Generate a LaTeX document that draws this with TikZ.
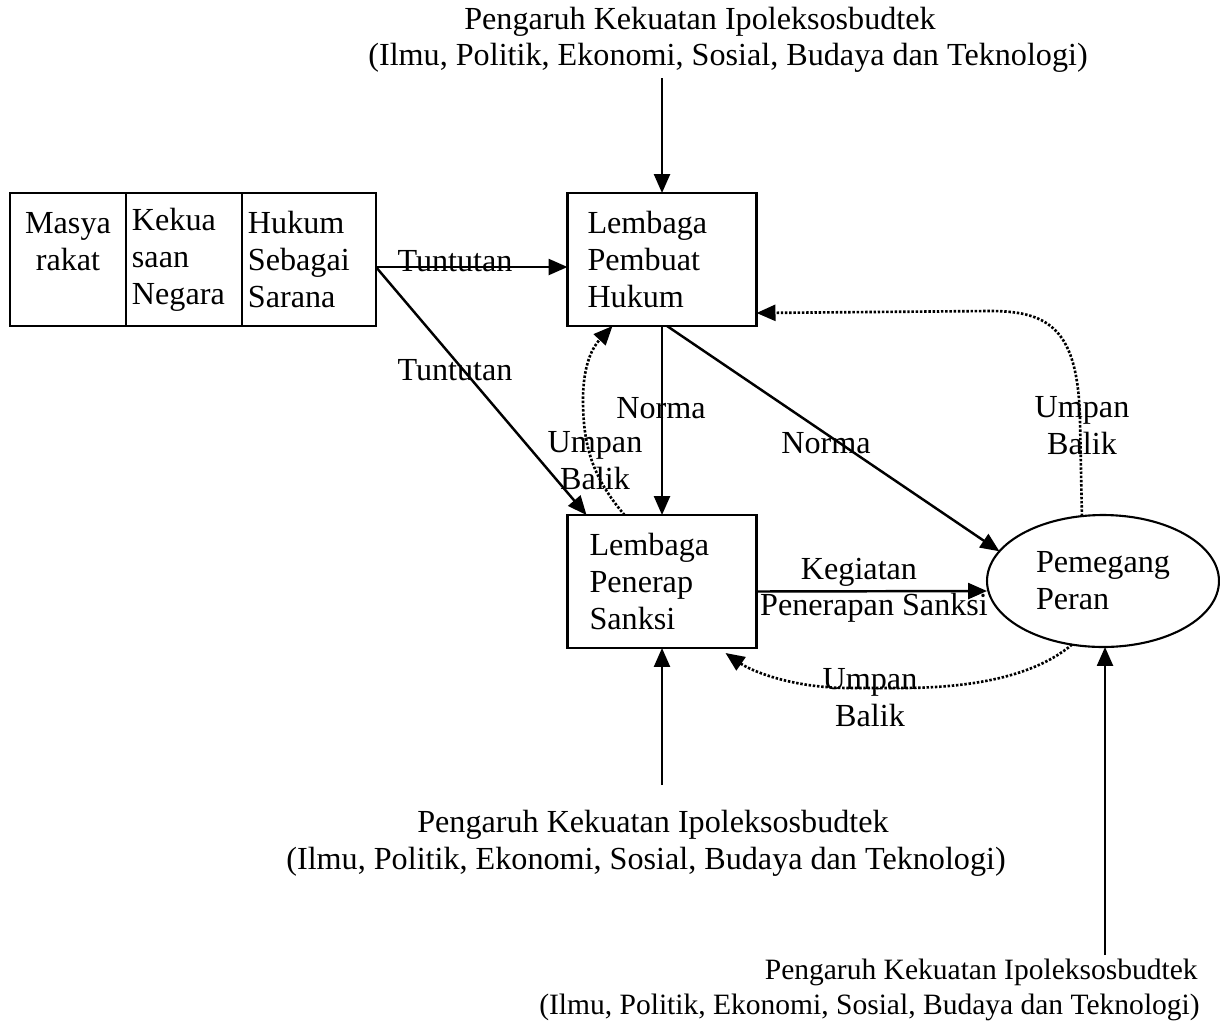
\documentclass[tikz,border=0pt]{standalone}
\usepackage{fontspec}
\setmainfont{Liberation Serif}
\usetikzlibrary{arrows.meta,shapes.geometric}

\begin{document}
\begin{tikzpicture}[x=0.02cm, y=-0.02cm,
		every node/.style={font=\fontsize{18.3}{21}\selectfont},
		kotak/.style={draw, line width=1.2pt, outer sep=0pt, minimum height=2.66cm, align=left},
		panah/.style={line width=1.4pt, -{Triangle[length=0.38cm, width=0.32cm]}},
		balik/.style={line width=1.5pt, dash pattern=on 1.4pt off 1pt, -{Triangle[length=0.38cm, width=0.32cm]}},
		teks/.style={inner sep=0pt, align=center}]
		%%%%% START %%%%%
		
		\useasboundingbox (0,0) rectangle (1220,1025);
		
		\node[teks] (judul1a) at (700,22) {Pengaruh Kekuatan Ipoleksosbudtek};
		\node[teks] (judul1b) at (728,58) {(Ilmu, Politik, Ekonomi, Sosial, Budaya dan Teknologi)};
		
		\node[kotak, inner xsep=0.1cm, text width=2.12cm, align=center] (masy) at (68,259.5) {Masya\\rakat\\~};
		\node[kotak, inner xsep=0.12cm, text width=2.08cm, anchor=west] (kuasa) at (masy.east) {Kekua\\saan\\Negara};
		\node[kotak, inner xsep=0.12cm, text width=2.44cm, anchor=west] (sarana) at (kuasa.east) {Hukum\\Sebagai\\Sarana};
		
		\node[kotak, inner xsep=0.4cm, text width=2.98cm] (lph) at (662,259.5) {Lembaga\\Pembuat\\Hukum};
		\node[kotak, inner xsep=0.44cm, text width=2.9cm] (lps) at (662,581.5) {Lembaga\\Penerap\\Sanksi};
		\node[draw, ellipse, line width=1.2pt, outer sep=0pt, minimum width=4.64cm, minimum height=2.64cm, align=left] (peran) at (1103,581) {Pemegang\\Peran};
		
		\coordinate (atas) at (662,78);
		\draw[panah] (atas) -- (lph.north);
		
		\draw[panah] ([yshift=-0.15cm]sarana.east) -- ([yshift=-0.15cm]lph.west);
		\node[teks] (tuntut1) at (455,261) {Tuntutan};
		\draw[panah] ([yshift=-0.15cm]sarana.east) -- ([xshift=0.38cm]lps.north west);
		\node[teks] (tuntut2) at (455,370) {Tuntutan};
		
		\draw[panah] (lph.south) -- (lps.north);
		\node[teks] (norma1) at (661,408) {Norma};
		\draw[panah] ([xshift=0.1cm]lph.south) -- (peran.164);
		\node[teks] (norma2) at (826,443) {Norma};
		
		\draw[panah] ([yshift=-0.2cm]lps.east) -- ([yshift=-0.2cm]peran.west);
		\node[teks] (giat) at (859,572) {Kegiatan};
		\node[teks] (terap) at (874,608) {Penerapan Sanksi};
		
		% umpan balik
		\draw[balik] (peran.108) -- (1080,420) .. controls (1078,330) and (1050,311) .. (990,311) -- ([yshift=0.26cm]lph.south east);
		\node[teks] (umpan1) at (1082,426) {Umpan\\Balik};
		\draw[balik] ([xshift=-0.75cm]lps.north) .. controls (595,480) and (583,450) .. (583,400) .. controls (583,370) and (590,350) .. ([xshift=0.9cm]lph.south west);
		\node[teks] (umpan2) at (595,461) {Umpan\\Balik};
		\draw[balik] (peran.244) .. controls (1030,680) and (960,688) .. (900,688) -- (850,688) .. controls (790,688) and (750,670) .. ([xshift=-0.62cm, yshift=-0.1cm]lps.south east);
		\node[teks] (umpan3) at (870,698) {Umpan\\Balik};
		
		\coordinate (bawah1) at (662,785);
		\draw[panah] (bawah1) -- (lps.south);
		\node[teks] (judul2a) at (653,825) {Pengaruh Kekuatan Ipoleksosbudtek};
		\node[teks] (judul2b) at (646,862) {(Ilmu, Politik, Ekonomi, Sosial, Budaya dan Teknologi)};
		
		\coordinate (bawah2) at (1105,955);
		\draw[panah] (bawah2) -- (bawah2 |- peran.south);
		\node[teks, anchor=east, font=\fontsize{16.8}{20}\selectfont] (judul3a) at (1198,972) {Pengaruh Kekuatan Ipoleksosbudtek};
		\node[teks, anchor=east, font=\fontsize{16.8}{20}\selectfont] (judul3b) at (1200,1007) {(Ilmu, Politik, Ekonomi, Sosial, Budaya dan Teknologi)};
		
		%%%%% END %%%%%
	\end{tikzpicture}
\end{document}
